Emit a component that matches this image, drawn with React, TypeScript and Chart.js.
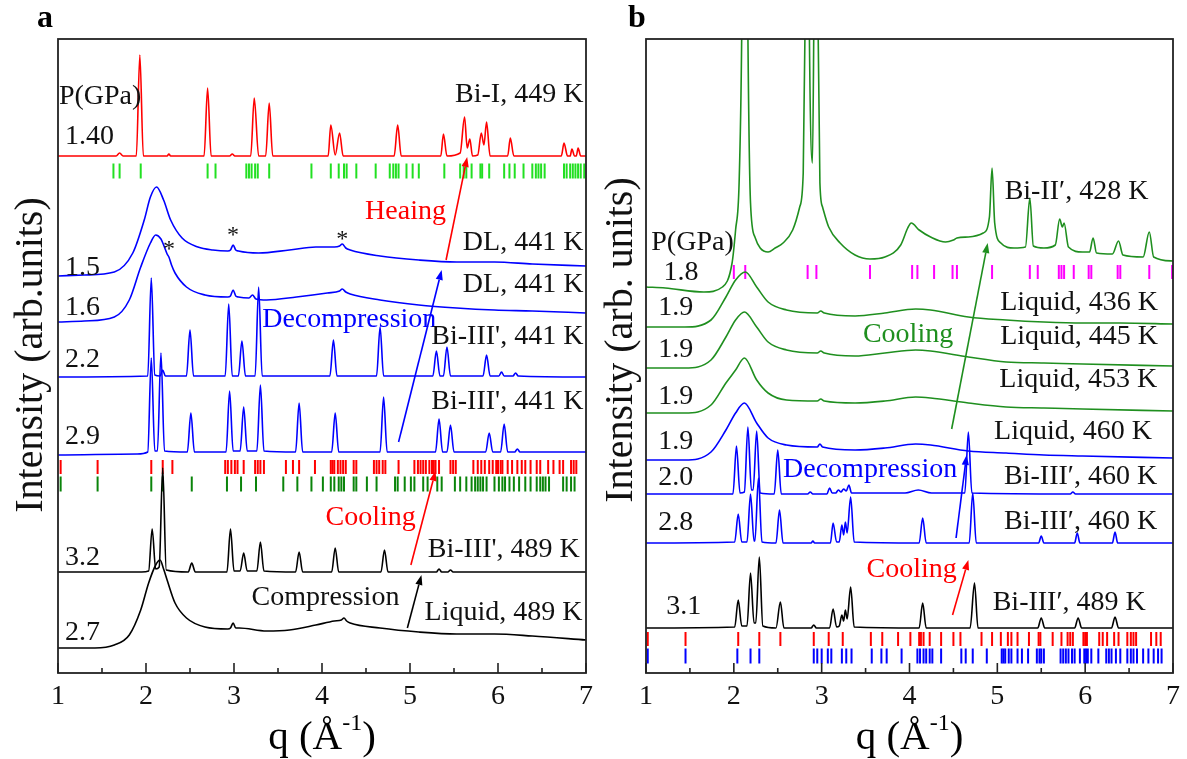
import React, { useEffect, useRef } from 'react';
import { Chart, registerables } from 'chart.js';

Chart.register(...registerables);

type Pt = [number, number];

// ---------- Panel a: diffraction patterns (q in 1/Å, intensity in arb. units, stacked) ----------
const aBiI449: Pt[] = [
  [1.0, 517], [1.66, 517], [1.70, 520], [1.74, 517], [1.89, 517], [1.93, 618], [1.97, 517],
  [2.24, 517], [2.26, 519], [2.28, 517], [2.66, 517], [2.70, 585], [2.74, 517], [2.95, 517],
  [2.98, 519], [3.01, 517], [3.19, 517], [3.23, 575], [3.28, 517], [3.36, 517], [3.40, 570],
  [3.44, 517], [4.07, 517], [4.10, 548], [4.15, 518], [4.20, 540], [4.24, 517], [4.82, 517],
  [4.86, 548], [4.90, 517], [5.35, 517], [5.38, 539], [5.42, 517], [5.57, 520], [5.62, 556],
  [5.65, 525], [5.68, 534], [5.71, 517], [5.77, 518], [5.81, 540], [5.84, 528], [5.87, 551],
  [5.91, 517], [6.11, 517], [6.14, 535], [6.18, 517], [6.72, 517], [6.75, 530], [6.79, 517],
  [6.82, 517], [6.84, 524], [6.87, 517], [6.89, 517], [6.91, 525], [6.94, 517], [7.0, 517],
];
const aDL441p15: Pt[] = [
  [1.0, 397], [1.3, 398], [1.64, 401], [1.85, 420], [1.98, 453], [2.05, 476], [2.12, 486],
  [2.20, 473], [2.28, 453], [2.41, 435], [2.59, 426], [2.76, 423], [2.93, 422], [2.96, 423],
  [2.99, 428], [3.02, 423], [3.05, 422], [3.28, 420], [3.63, 423], [3.93, 426], [4.14, 426],
  [4.20, 427], [4.23, 429], [4.27, 425], [4.32, 423], [4.66, 417], [5.10, 413], [5.53, 411],
  [5.96, 411], [6.39, 409], [7.0, 407],
];
const aDL441p16: Pt[] = [
  [1.0, 351], [1.3, 352], [1.64, 356], [1.81, 373], [1.94, 406], [2.05, 430], [2.11, 438],
  [2.17, 434], [2.20, 428], [2.24, 419], [2.26, 416], [2.29, 408], [2.33, 400], [2.46, 386],
  [2.67, 378], [2.93, 376], [2.96, 377], [2.99, 383], [3.02, 377], [3.05, 376], [3.17, 375],
  [3.21, 378], [3.25, 374], [3.37, 373], [3.71, 376], [4.06, 380], [4.20, 382], [4.23, 384],
  [4.27, 381], [4.32, 379], [4.66, 373], [5.10, 368], [5.53, 365], [5.96, 363], [6.39, 362],
  [7.0, 360],
];
const aBiIII441p22: Pt[] = [
  [1.0, 296], [2.02, 297], [2.06, 395], [2.10, 298], [2.16, 297], [2.19, 303], [2.22, 297],
  [2.46, 297], [2.50, 343], [2.54, 297], [2.90, 297], [2.94, 369], [2.98, 297], [3.05, 297],
  [3.09, 332], [3.13, 297], [3.24, 297], [3.28, 386], [3.32, 297], [4.09, 297], [4.13, 333],
  [4.17, 297], [4.62, 297], [4.66, 346], [4.70, 297], [5.26, 297], [5.30, 322], [5.34, 297],
  [5.38, 297], [5.42, 326], [5.46, 297], [5.83, 297], [5.87, 318], [5.91, 297], [6.01, 297],
  [6.04, 301], [6.07, 297], [6.17, 297], [6.20, 300], [6.23, 297], [7.0, 296],
];
const aBiIII441p29: Pt[] = [
  [1.0, 218], [1.9, 219], [2.02, 221], [2.06, 315], [2.10, 222], [2.13, 222], [2.17, 320],
  [2.21, 222], [2.47, 221], [2.51, 260], [2.55, 221], [2.91, 221], [2.95, 282], [2.99, 222],
  [3.07, 222], [3.11, 266], [3.15, 222], [3.26, 222], [3.30, 288], [3.34, 222], [3.70, 221],
  [3.74, 270], [3.78, 221], [4.11, 221], [4.15, 260], [4.19, 221], [4.66, 221], [4.70, 276],
  [4.74, 221], [5.29, 221], [5.33, 254], [5.37, 221], [5.42, 221], [5.46, 248], [5.50, 221],
  [5.86, 221], [5.90, 240], [5.94, 221], [6.03, 221], [6.07, 249], [6.11, 221], [6.19, 221],
  [6.22, 224], [6.25, 221], [7.0, 221],
];
const aBiIII489p32: Pt[] = [
  [1.0, 101], [1.95, 101], [2.03, 102], [2.07, 144], [2.11, 104], [2.15, 106], [2.19, 205],
  [2.23, 103], [2.48, 101], [2.52, 110], [2.56, 101], [2.92, 101], [2.96, 144], [3.00, 102],
  [3.07, 102], [3.11, 120], [3.15, 102], [3.26, 102], [3.30, 131], [3.34, 102], [3.70, 101],
  [3.74, 121], [3.78, 101], [4.11, 101], [4.15, 125], [4.19, 101], [4.67, 101], [4.71, 123],
  [4.75, 101], [5.30, 101], [5.33, 104], [5.36, 101], [5.43, 101], [5.46, 103], [5.49, 101],
  [7.0, 101],
];
const aLiquid489p27: Pt[] = [
  [1.0, 25], [1.42, 25], [1.64, 28], [1.81, 38], [1.94, 63], [2.03, 90], [2.11, 108],
  [2.16, 113], [2.20, 104], [2.24, 93], [2.33, 70], [2.46, 55], [2.67, 46], [2.93, 44],
  [2.96, 45], [2.99, 50], [3.02, 45], [3.06, 45], [3.37, 42], [3.63, 43], [3.93, 48],
  [4.14, 52], [4.22, 53], [4.25, 55], [4.28, 52], [4.32, 50], [4.66, 45], [5.10, 41],
  [5.53, 39], [5.96, 39], [6.39, 37], [7.0, 33],
];

// Bragg reflection markers, panel a
const aBiIMarks = [
  1.63, 1.70, 1.94, 2.70, 2.79, 3.14, 3.17, 3.20, 3.24, 3.27, 3.40, 3.88, 4.10, 4.19, 4.25,
  4.28, 4.39, 4.61, 4.77, 4.81, 4.84, 4.87, 4.96, 5.03, 5.10, 5.39, 5.57, 5.61, 5.64, 5.70,
  5.80, 5.82, 5.90, 6.07, 6.13, 6.19, 6.29, 6.39, 6.43, 6.46, 6.49, 6.53, 6.75, 6.78, 6.82,
  6.85, 6.88, 6.91, 6.94, 6.98,
];
const aRedMarks = [
  1.03, 1.45, 2.06, 2.19, 2.30, 2.90, 2.93, 2.97, 3.01, 3.04, 3.11, 3.24, 3.27, 3.30, 3.34,
  3.59, 3.67, 3.74, 3.92, 4.10, 4.12, 4.14, 4.18, 4.21, 4.24, 4.27, 4.36, 4.39, 4.59, 4.62,
  4.65, 4.69, 4.72, 4.87, 5.05, 5.09, 5.12, 5.15, 5.18, 5.22, 5.25, 5.27, 5.29, 5.33, 5.46,
  5.49, 5.52, 5.72, 5.77, 5.81, 5.85, 5.90, 5.94, 5.98, 6.00, 6.03, 6.05, 6.11, 6.16, 6.22,
  6.27, 6.31, 6.37, 6.44, 6.48, 6.57, 6.63, 6.70, 6.74, 6.83, 6.86, 6.89,
];
const aGreenMarks = [
  1.03, 1.45, 2.06, 2.19, 2.52, 2.92, 3.08, 3.25, 3.56, 3.72, 3.88, 4.01, 4.10, 4.14, 4.19,
  4.22, 4.25, 4.36, 4.39, 4.51, 4.62, 4.83, 4.86, 4.94, 5.01, 5.05, 5.15, 5.20, 5.31, 5.36,
  5.51, 5.57, 5.64, 5.70, 5.74, 5.77, 5.80, 5.83, 5.87, 5.96, 6.01, 6.05, 6.08, 6.13, 6.18,
  6.24, 6.31, 6.37, 6.44, 6.48, 6.51, 6.54, 6.58, 6.74, 6.78, 6.83, 6.87,
];
const aMarkRows = { biI: 502, red: 206, green: 189 };

// ---------- Panel b ----------
const bBiII428: Pt[] = [
  [1.0, 386], [1.22, 385], [1.66, 381], [1.87, 386], [1.98, 410], [2.02, 443], [2.06, 490],
  [2.09, 640], [2.125, 1100], [2.16, 640], [2.19, 470], [2.24, 436], [2.30, 425], [2.39, 421],
  [2.47, 425], [2.56, 430], [2.67, 443], [2.75, 466], [2.79, 500], [2.81, 640], [2.835, 1000],
  [2.86, 640], [2.895, 510], [2.91, 640], [2.935, 1000], [2.96, 640], [2.98, 490], [3.01, 466],
  [3.08, 446], [3.21, 430], [3.38, 418], [3.55, 414], [3.72, 416], [3.90, 428], [3.98, 445],
  [4.02, 450], [4.11, 443], [4.24, 436], [4.41, 431], [4.50, 433], [4.54, 435], [4.67, 436],
  [4.84, 440], [4.91, 456], [4.94, 505], [4.97, 450], [5.04, 430], [5.19, 425], [5.32, 426],
  [5.37, 475], [5.41, 427], [5.53, 425], [5.66, 428], [5.71, 454], [5.74, 446], [5.76, 450],
  [5.81, 426], [5.97, 421], [6.05, 421], [6.09, 435], [6.13, 420], [6.31, 419], [6.38, 432],
  [6.43, 418], [6.66, 416], [6.73, 441], [6.78, 416], [7.0, 412],
];
const bLiquid436: Pt[] = [
  [1.0, 346], [1.44, 346], [1.74, 353], [1.91, 376], [2.02, 393], [2.13, 401], [2.26, 386],
  [2.39, 371], [2.60, 363], [2.95, 360], [2.99, 362], [3.03, 360], [3.38, 357], [3.72, 360],
  [4.07, 364], [4.24, 363], [4.67, 356], [5.10, 353], [5.53, 351], [5.97, 350], [6.40, 350],
  [7.0, 349],
];
const bLiquid445: Pt[] = [
  [1.0, 305], [1.44, 305], [1.74, 313], [1.91, 336], [2.02, 353], [2.12, 361], [2.26, 346],
  [2.39, 331], [2.60, 323], [2.95, 320], [2.99, 322], [3.03, 320], [3.38, 317], [3.72, 320],
  [4.07, 323], [4.24, 322], [4.67, 316], [5.10, 311], [5.53, 310], [5.97, 309], [7.0, 307],
];
const bLiquid453: Pt[] = [
  [1.0, 260], [1.44, 260], [1.74, 268], [1.91, 290], [2.02, 303], [2.12, 315], [2.26, 293],
  [2.39, 280], [2.60, 273], [2.95, 272], [2.99, 274], [3.03, 272], [3.38, 270], [3.72, 272],
  [4.07, 276], [4.24, 275], [4.67, 270], [5.10, 266], [5.53, 265], [5.97, 264], [7.0, 262],
];
const bLiquid460: Pt[] = [
  [1.0, 213], [1.44, 213], [1.74, 221], [1.91, 243], [2.02, 260], [2.12, 270], [2.26, 250],
  [2.39, 235], [2.60, 228], [2.95, 226], [2.98, 229], [3.01, 226], [3.38, 223], [3.72, 225],
  [4.07, 229], [4.24, 228], [4.67, 222], [5.10, 220], [5.53, 218], [5.97, 217], [7.0, 215],
];
const bBiIII460p20: Pt[] = [
  [1.0, 179], [1.99, 179], [2.03, 227], [2.07, 180], [2.12, 181], [2.16, 246], [2.20, 183],
  [2.22, 183], [2.26, 242], [2.30, 180], [2.46, 179], [2.50, 223], [2.54, 179], [2.84, 179],
  [2.87, 181], [2.90, 179], [3.06, 179], [3.09, 185], [3.12, 180], [3.16, 180], [3.19, 183],
  [3.22, 181], [3.25, 184], [3.28, 182], [3.31, 188], [3.34, 180], [3.38, 180], [3.95, 180],
  [4.10, 183], [4.25, 180], [4.63, 180], [4.67, 241], [4.71, 180], [5.83, 179], [5.86, 181],
  [5.89, 179], [7.0, 179],
];
const bBiIII460p28: Pt[] = [
  [1.0, 130], [2.01, 131], [2.05, 159], [2.09, 131], [2.15, 131], [2.19, 179], [2.23, 132],
  [2.24, 132], [2.28, 195], [2.32, 131], [2.48, 130], [2.52, 163], [2.56, 130], [2.88, 130],
  [2.90, 132], [2.92, 130], [3.10, 130], [3.13, 150], [3.17, 131], [3.20, 131], [3.23, 148],
  [3.25, 138], [3.27, 151], [3.29, 140], [3.33, 176], [3.37, 131], [4.11, 130], [4.15, 155],
  [4.19, 130], [4.68, 130], [4.72, 180], [4.76, 130], [5.47, 130], [5.50, 137], [5.53, 130],
  [5.88, 130], [5.91, 140], [5.94, 130], [6.31, 130], [6.34, 141], [6.37, 130], [7.0, 130],
];
const bBiIII489p31: Pt[] = [
  [1.0, 45], [2.01, 46], [2.05, 73], [2.09, 47], [2.15, 47], [2.19, 100], [2.23, 50],
  [2.25, 50], [2.29, 116], [2.33, 47], [2.48, 45], [2.53, 71], [2.57, 45], [2.88, 45],
  [2.91, 48], [2.94, 45], [3.09, 45], [3.13, 64], [3.17, 46], [3.20, 47], [3.23, 58],
  [3.25, 52], [3.27, 63], [3.29, 54], [3.33, 86], [3.37, 46], [4.11, 45], [4.15, 70],
  [4.19, 45], [4.69, 45], [4.74, 90], [4.78, 45], [5.46, 45], [5.50, 55], [5.54, 45],
  [5.88, 45], [5.92, 55], [5.96, 45], [6.30, 45], [6.34, 56], [6.38, 45], [7.0, 45],
];

// Bragg reflection markers, panel b
const bBiIIMarks = [
  2.00, 2.13, 2.84, 2.94, 3.55, 4.03, 4.09, 4.28, 4.49, 4.54, 4.94, 5.37, 5.46, 5.70, 5.73,
  5.76, 5.87, 6.04, 6.07, 6.37, 6.40, 6.73, 6.99,
];
const bRedMarks = [
  1.02, 1.45, 2.05, 2.29, 2.53, 2.91, 3.08, 3.24, 3.56, 3.69, 3.87, 4.01, 4.11, 4.13, 4.16,
  4.23, 4.36, 4.50, 4.58, 4.82, 4.94, 5.04, 5.12, 5.16, 5.23, 5.36, 5.47, 5.49, 5.63, 5.73,
  5.80, 5.83, 5.86, 5.98, 6.00, 6.02, 6.16, 6.20, 6.25, 6.33, 6.38, 6.48, 6.52, 6.55, 6.58,
  6.75, 6.81, 6.86,
];
const bBlueMarks = [
  1.02, 1.45, 2.04, 2.19, 2.29, 2.91, 2.95, 3.00, 3.07, 3.11, 3.23, 3.28, 3.34, 3.57, 3.68,
  3.74, 3.91, 4.09, 4.12, 4.16, 4.19, 4.23, 4.26, 4.36, 4.59, 4.64, 4.72, 4.88, 5.05, 5.07,
  5.09, 5.13, 5.16, 5.23, 5.28, 5.35, 5.45, 5.48, 5.50, 5.53, 5.72, 5.75, 5.78, 5.81, 5.85,
  5.88, 5.94, 5.99, 6.01, 6.03, 6.07, 6.15, 6.24, 6.27, 6.30, 6.35, 6.40, 6.48, 6.52, 6.55,
  6.59, 6.66, 6.72, 6.78, 6.83, 6.87,
];
const bMarkRows = { biII: 401, red: 34, blue: 17 };

// ---------- styling ----------
const SERIF = '"Liberation Serif", "Times New Roman", serif';
const RED = '#ff0000';
const BLUE = '#0000ff';
const GREEN = '#1f8f1f';
const DARK_GREEN = '#0a840a';
const LIGHT_GREEN = '#22e022';
const MAGENTA = '#ff00ff';
const INK = '#111111';

interface Label { t: string; q: number; v: number; side?: 'l' | 'r' | 'c'; color?: string; size?: number }
interface Arrow { from: Pt; to: Pt; color: string }
interface Panel {
  letter: string;
  letterDx: number;
  yTitle: string;
  yTitleDx: number;
  yTitleV: number;
  labels: Label[];
  arrows: Arrow[];
}

const panelA: Panel = {
  letter: 'a', letterDx: -21, yTitle: 'Intensity (arb.units)', yTitleDx: -27, yTitleV: 318,
  labels: [
    { t: 'P(GPa)', q: 1.01, v: 576 },
    { t: '1.40', q: 1.08, v: 536 },
    { t: 'Bi-I, 449 K', q: 6.97, v: 578, side: 'r' },
    { t: 'Heaing', q: 4.49, v: 461, color: RED },
    { t: '*', q: 2.26, v: 423, side: 'c', size: 24 },
    { t: '*', q: 2.99, v: 437, side: 'c', size: 24 },
    { t: '*', q: 4.23, v: 433, side: 'c', size: 24 },
    { t: 'DL, 441 K', q: 6.97, v: 430, side: 'r' },
    { t: '1.5', q: 1.08, v: 405 },
    { t: 'DL, 441 K', q: 6.97, v: 388, side: 'r' },
    { t: '1.6', q: 1.08, v: 365 },
    { t: 'Decompression', q: 3.32, v: 353, color: BLUE },
    { t: "Bi-III', 441 K", q: 6.97, v: 336, side: 'r' },
    { t: '2.2', q: 1.08, v: 313 },
    { t: "Bi-III', 441 K", q: 6.97, v: 271, side: 'r' },
    { t: '2.9', q: 1.08, v: 236 },
    { t: 'Cooling', q: 4.04, v: 155, color: RED },
    { t: "Bi-III', 489 K", q: 6.93, v: 123, side: 'r' },
    { t: '3.2', q: 1.08, v: 115 },
    { t: 'Compression', q: 3.2, v: 75 },
    { t: 'Liquid, 489 K', q: 6.96, v: 60, side: 'r' },
    { t: '2.7', q: 1.08, v: 40 },
  ],
  arrows: [
    { from: [5.41, 413], to: [5.65, 516], color: RED },
    { from: [4.87, 231], to: [5.36, 403], color: BLUE },
    { from: [5.01, 108], to: [5.29, 202], color: RED },
    { from: [4.97, 45], to: [5.13, 98], color: '#000' },
  ],
};

const panelB: Panel = {
  letter: 'b', letterDx: -18, yTitle: 'Intensity (arb. units)', yTitleDx: -25, yTitleV: 333,
  labels: [
    { t: 'P(GPa)', q: 1.06, v: 430 },
    { t: '1.8', q: 1.2, v: 400 },
    { t: 'Bi-II′, 428 K', q: 6.72, v: 481, side: 'r' },
    { t: '1.9', q: 1.14, v: 365 },
    { t: 'Liquid, 436 K', q: 6.83, v: 370, side: 'r' },
    { t: 'Cooling', q: 3.47, v: 338, color: GREEN },
    { t: 'Liquid, 445 K', q: 6.83, v: 336, side: 'r' },
    { t: '1.9', q: 1.14, v: 323 },
    { t: 'Liquid, 453 K', q: 6.82, v: 293, side: 'r' },
    { t: '1.9', q: 1.14, v: 276 },
    { t: 'Liquid, 460 K', q: 6.76, v: 241, side: 'r' },
    { t: '1.9', q: 1.14, v: 231 },
    { t: 'Decompression', q: 2.56, v: 203, color: BLUE },
    { t: '2.0', q: 1.14, v: 195 },
    { t: 'Bi-III′, 460 K', q: 6.82, v: 196, side: 'r' },
    { t: '2.8', q: 1.14, v: 150 },
    { t: 'Bi-III′, 460 K', q: 6.82, v: 151, side: 'r' },
    { t: 'Cooling', q: 3.51, v: 103, color: RED },
    { t: '3.1', q: 1.23, v: 66 },
    { t: 'Bi-III′, 489 K', q: 6.69, v: 70, side: 'r' },
  ],
  arrows: [
    { from: [4.48, 244], to: [4.89, 430], color: GREEN },
    { from: [4.53, 135], to: [4.65, 218], color: BLUE },
    { from: [4.49, 58], to: [4.67, 113], color: RED },
  ],
};

const curve = (pts: Pt[], color: string) => ({
  data: pts.map(([q, v]) => ({ x: q, y: v })),
  borderColor: color,
  borderWidth: 1.6,
  pointRadius: 0,
  fill: false,
  cubicInterpolationMode: 'monotone' as const,
});

const marks = (qs: number[], level: number, color: string, half: number) => ({
  data: qs.map((q) => ({ x: q, y: level })),
  showLine: false,
  borderColor: color,
  pointStyle: 'line' as const,
  pointRotation: 90,
  pointRadius: half,
  pointBorderWidth: 2,
  pointBorderColor: color,
  pointBackgroundColor: color,
});

function drawArrow(ctx: CanvasRenderingContext2D, x1: number, y1: number, x2: number, y2: number, color: string) {
  const ang = Math.atan2(y2 - y1, x2 - x1);
  const L = 10;
  const W = 3.6;
  const bx = x2 - L * Math.cos(ang);
  const by = y2 - L * Math.sin(ang);
  ctx.strokeStyle = color;
  ctx.fillStyle = color;
  ctx.lineWidth = 1.6;
  ctx.beginPath();
  ctx.moveTo(x1, y1);
  ctx.lineTo(bx, by);
  ctx.stroke();
  ctx.beginPath();
  ctx.moveTo(x2, y2);
  ctx.lineTo(bx + W * Math.sin(ang), by - W * Math.cos(ang));
  ctx.lineTo(bx - W * Math.sin(ang), by + W * Math.cos(ang));
  ctx.closePath();
  ctx.fill();
}

function decorations(panel: Panel) {
  return {
    id: 'decor-' + panel.letter,
    afterDatasetsDraw(chart: any) {
      const { ctx, chartArea: ca } = chart;
      const xs = chart.scales.x;
      const ys = chart.scales.y;
      ctx.save();

      // frame
      ctx.strokeStyle = '#222';
      ctx.lineWidth = 1.8;
      ctx.strokeRect(ca.left, ca.top, ca.right - ca.left, ca.bottom - ca.top);

      // inward tick marks on the q axis
      ctx.beginPath();
      for (let k = 2; k <= 14; k++) {
        const v = k / 2;
        const px = xs.getPixelForValue(v);
        const len = k % 2 === 0 ? 10 : 5;
        ctx.moveTo(px, ca.bottom);
        ctx.lineTo(px, ca.bottom - len);
      }
      ctx.lineWidth = 1.6;
      ctx.stroke();

      // arrows
      for (const a of panel.arrows) {
        drawArrow(
          ctx,
          xs.getPixelForValue(a.from[0]), ys.getPixelForValue(a.from[1]),
          xs.getPixelForValue(a.to[0]), ys.getPixelForValue(a.to[1]),
          a.color,
        );
      }

      // labels
      ctx.textBaseline = 'middle';
      for (const l of panel.labels) {
        ctx.font = `${l.size ?? 28}px ${SERIF}`;
        ctx.fillStyle = l.color ?? INK;
        ctx.textAlign = l.side === 'r' ? 'right' : l.side === 'c' ? 'center' : 'left';
        ctx.fillText(l.t, xs.getPixelForValue(l.q), ys.getPixelForValue(l.v));
      }

      // panel letter
      ctx.font = `bold 32px ${SERIF}`;
      ctx.fillStyle = '#000';
      ctx.textAlign = 'left';
      ctx.textBaseline = 'alphabetic';
      ctx.fillText(panel.letter, ca.left + panel.letterDx, 27);

      // y title
      ctx.save();
      ctx.translate(ca.left + panel.yTitleDx, ys.getPixelForValue(panel.yTitleV));
      ctx.rotate(-Math.PI / 2);
      ctx.font = `40px ${SERIF}`;
      ctx.fillStyle = INK;
      ctx.textAlign = 'center';
      ctx.textBaseline = 'middle';
      ctx.fillText(panel.yTitle, 0, 0);
      ctx.restore();

      // x title: q (Å^-1)
      const main = `41px ${SERIF}`;
      const sup = `24px ${SERIF}`;
      ctx.font = main;
      const w1 = ctx.measureText('q (Å').width;
      const w3 = ctx.measureText(')').width;
      ctx.font = sup;
      const w2 = ctx.measureText('-1').width;
      const cx = (ca.left + ca.right) / 2;
      let xp = cx - (w1 + w2 + w3) / 2;
      const base = ca.bottom + 76;
      ctx.textAlign = 'left';
      ctx.font = main;
      ctx.fillText('q (Å', xp, base);
      xp += w1;
      ctx.font = sup;
      ctx.fillText('-1', xp, base - 19);
      xp += w2;
      ctx.font = main;
      ctx.fillText(')', xp, base);

      ctx.restore();
    },
  };
}

function makeOptions(padLeft: number, padRight: number) {
  return {
    responsive: false,
    animation: false as const,
    events: [] as any[],
    layout: { padding: { left: padLeft, right: padRight, top: 39, bottom: 0 } },
    plugins: { legend: { display: false }, tooltip: { enabled: false } },
    scales: {
      x: {
        type: 'linear' as const,
        min: 1,
        max: 7,
        grid: { display: false, drawTicks: false },
        border: { display: false },
        ticks: { stepSize: 1, padding: 7, color: INK, font: { family: SERIF, size: 28, lineHeight: 1.2 } },
        afterFit: (s: any) => { s.height = 86; },
      },
      y: { type: 'linear' as const, min: 0, max: 634, display: false },
    },
  };
}

export default function App() {
  const refA = useRef<HTMLCanvasElement>(null);
  const refB = useRef<HTMLCanvasElement>(null);

  useEffect(() => {
    const chartA = new Chart(refA.current!, {
      type: 'line',
      data: {
        datasets: [
          curve(aBiI449, RED),
          curve(aDL441p15, BLUE),
          curve(aDL441p16, BLUE),
          curve(aBiIII441p22, BLUE),
          curve(aBiIII441p29, BLUE),
          curve(aBiIII489p32, '#000'),
          curve(aLiquid489p27, '#000'),
          marks(aBiIMarks, aMarkRows.biI, LIGHT_GREEN, 7.5),
          marks(aRedMarks, aMarkRows.red, RED, 7),
          marks(aGreenMarks, aMarkRows.green, DARK_GREEN, 7.5),
        ] as any,
      },
      options: makeOptions(58, 9) as any,
      plugins: [decorations(panelA)],
    });
    const chartB = new Chart(refB.current!, {
      type: 'line',
      data: {
        datasets: [
          curve(bBiII428, GREEN),
          curve(bLiquid436, GREEN),
          curve(bLiquid445, GREEN),
          curve(bLiquid453, GREEN),
          curve(bLiquid460, BLUE),
          curve(bBiIII460p20, BLUE),
          curve(bBiIII460p28, BLUE),
          curve(bBiIII489p31, '#000'),
          marks(bBiIIMarks, bMarkRows.biII, MAGENTA, 7),
          marks(bRedMarks, bMarkRows.red, RED, 7),
          marks(bBlueMarks, bMarkRows.blue, BLUE, 7.5),
        ] as any,
      },
      options: makeOptions(46, 11) as any,
      plugins: [decorations(panelB)],
    });
    return () => {
      chartA.destroy();
      chartB.destroy();
    };
  }, []);

  return (
    <div style={{ position: 'fixed', left: 0, top: 0, width: 1187, height: 759, background: '#fff' }}>
      <canvas ref={refA} width={600} height={759} style={{ position: 'absolute', left: 0, top: 0 }} />
      <canvas ref={refB} width={587} height={759} style={{ position: 'absolute', left: 600, top: 0 }} />
    </div>
  );
}
